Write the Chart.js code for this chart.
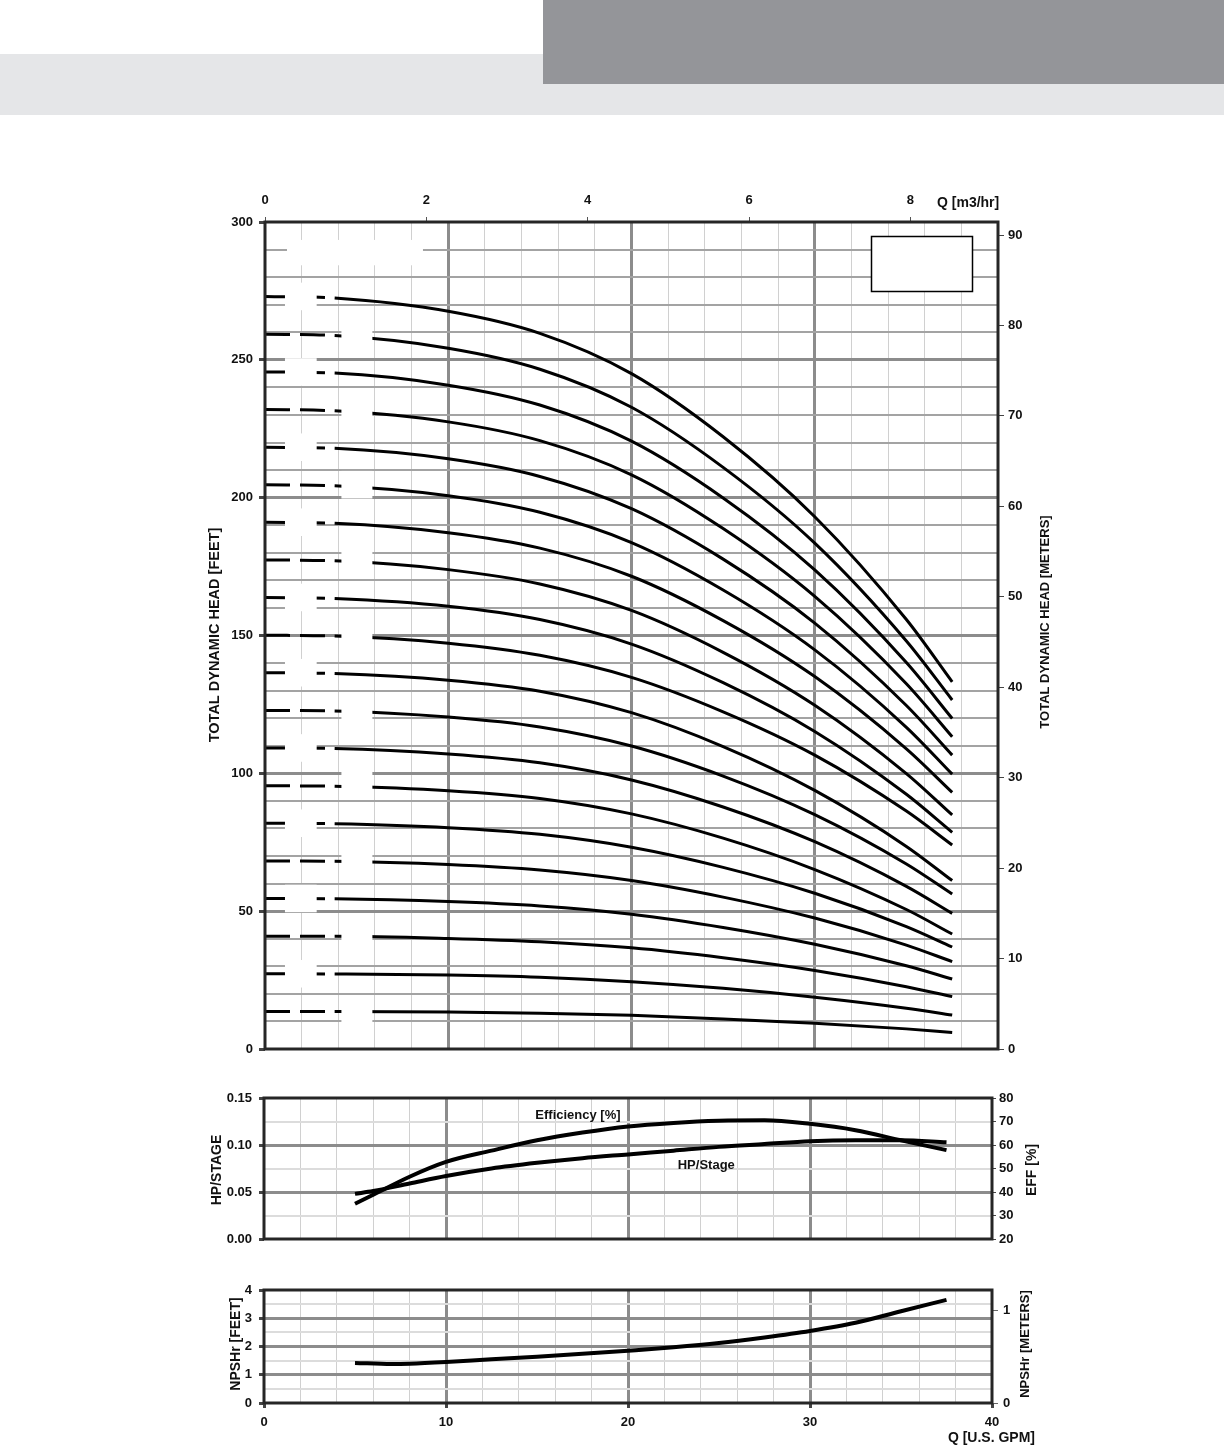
<!DOCTYPE html>
<html><head><meta charset="utf-8">
<script src="https://cdn.jsdelivr.net/npm/chart.js@4.4.1/dist/chart.umd.min.js"></script>
<style>
html,body{margin:0;padding:0;background:#fff;}
#page{position:relative;width:1224px;height:1450px;overflow:hidden;background:#fff;}
.band{position:absolute;left:0;top:54px;width:1224px;height:61px;background:#e5e6e8;}
.dark{position:absolute;left:543px;top:0;width:681px;height:84px;background:#949599;}
canvas{position:absolute;left:0;}
</style></head><body>
<div id="page">
<div class="band"></div><div class="dark"></div>
<canvas id="c1" width="1224" height="1080" style="top:0"></canvas>
<canvas id="c2" width="1224" height="200" style="top:1060px"></canvas>
<canvas id="c3" width="1224" height="190" style="top:1260px"></canvas>
</div>
<script>
// ---------- DATA ----------
const flowGpm = [0, 3.8, 10, 15, 20, 25, 30, 35, 37.5];
const head01 = [13.6, 13.6, 13.4, 13.0, 12.2, 10.9, 9.3, 7.3, 6.0];
const head02 = [27.3, 27.2, 26.8, 26.0, 24.4, 22.0, 18.8, 14.8, 12.3];
const head03 = [40.9, 40.9, 40.1, 38.9, 36.7, 33.1, 28.5, 22.6, 19.0];
const head04 = [54.6, 54.5, 53.5, 51.9, 48.9, 44.1, 38.0, 30.2, 25.4];
const head05 = [68.2, 68.1, 66.9, 64.9, 61.1, 55.1, 47.5, 37.7, 31.7];
const head06 = [81.9, 81.7, 80.3, 77.9, 73.2, 65.9, 56.5, 44.4, 37.0];
const head07 = [95.5, 95.3, 93.7, 90.9, 85.3, 76.5, 65.1, 50.6, 41.7];
const head08 = [109.2, 109.0, 107.0, 103.8, 97.6, 87.8, 75.2, 59.0, 49.2];
const head09 = [122.8, 122.6, 120.4, 116.8, 109.9, 99.0, 85.0, 67.1, 56.2];
const head10 = [136.5, 136.2, 133.8, 129.8, 122.0, 109.7, 93.8, 73.5, 61.1];
const head11 = [150.1, 149.8, 147.2, 142.8, 134.8, 122.3, 106.6, 86.3, 74.0];
const head12 = [163.8, 163.4, 160.6, 155.8, 146.9, 132.9, 115.2, 92.4, 78.6];
const head13 = [177.4, 177.1, 173.9, 168.7, 159.1, 143.9, 124.7, 99.9, 84.9];
const head14 = [191.1, 190.7, 187.3, 181.7, 171.5, 155.4, 135.1, 108.9, 93.1];
const head15 = [204.7, 204.3, 200.7, 194.7, 183.7, 166.5, 144.8, 116.7, 99.7];
const head16 = [218.3, 217.9, 214.1, 207.7, 196.0, 177.7, 154.5, 124.6, 106.6];
const head17 = [232.0, 231.5, 227.5, 220.7, 208.3, 188.8, 164.2, 132.5, 113.3];
const head18 = [245.6, 245.2, 240.8, 233.6, 220.5, 199.9, 173.8, 140.2, 119.9];
const head19 = [259.3, 258.8, 254.2, 246.6, 232.8, 211.0, 183.5, 148.0, 126.6];
const head20 = [273.0, 272.4, 267.6, 259.6, 245.0, 222.1, 193.1, 155.8, 133.2];
const headCurves = [head01, head02, head03, head04, head05, head06, head07, head08, head09, head10,
                    head11, head12, head13, head14, head15, head16, head17, head18, head19, head20];

const perfGpm = [5, 6, 8, 10, 12.5, 15, 17.5, 20, 22.5, 25, 27.5, 30, 32.5, 35, 37.5];
const hpPerStage = [0.048, 0.051, 0.059, 0.067, 0.075, 0.081, 0.086, 0.090, 0.094, 0.098, 0.101, 0.104, 0.105, 0.105, 0.103];
const efficiencyPct = [35, 38.8, 46.5, 52.8, 57.6, 62.0, 65.3, 67.9, 69.4, 70.3, 70.5, 69.0, 66.3, 62.0, 57.8];

const npshGpm = [5, 7, 8, 10, 12.5, 15, 17.5, 20, 22.5, 25, 27.5, 30, 32.5, 35, 37.5];
const npshFeet = [1.42, 1.38, 1.39, 1.45, 1.55, 1.64, 1.74, 1.85, 1.97, 2.12, 2.32, 2.55, 2.84, 3.25, 3.65];

const gpmTicks = [0, 10, 20, 30, 40];
const m3hTicks = [0, 2, 4, 6, 8];
const feetTicks = [0, 50, 100, 150, 200, 250, 300];
const meterTicks = [0, 10, 20, 30, 40, 50, 60, 70, 80, 90];
const hpTicks = [0.00, 0.05, 0.10, 0.15];
const effTicks = [20, 30, 40, 50, 60, 70, 80];
const npshFtTicks = [0, 1, 2, 3, 4];
const npshMTicks = [0, 1];

// ---------- STYLE ----------
const FAM = 'Liberation Sans, Arial, sans-serif';
const tickFont = {family: FAM, size: 13, weight: 'bold'};
const INK = '#111';
const MAJOR = '#8c8c8c', MID = '#a3a3a3', MINOR = '#d0d0d0', LIGHT = '#dcdcdc', FRAME = '#262626';
const GPM_PER_M3H = 4.40287, FT_PER_M = 3.28084;
const near = (v, arr) => arr.some(a => Math.abs(a - v) < 1e-6);
const TRANSP = 'rgba(0,0,0,0)';

function textPlugin(id, items) {
  return { id, afterDraw(chart) {
    const ctx = chart.ctx;
    items.forEach(it => {
      ctx.save();
      ctx.font = 'bold ' + (it.size || 13) + 'px ' + FAM;
      ctx.fillStyle = INK;
      let x = it.x, y = it.y;
      if (it.data) { x = chart.scales.x.getPixelForValue(it.data[0]); y = chart.scales.y.getPixelForValue(it.data[1]); }
      ctx.translate(x, y);
      if (it.rot) ctx.rotate(it.rot);
      ctx.textAlign = it.align || 'center';
      ctx.textBaseline = 'middle';
      ctx.fillText(it.text, 0, 0);
      ctx.restore();
    });
  }};
}
const framePlugin = { id: 'frame', afterDraw(chart) {
  const a = chart.chartArea, ctx = chart.ctx;
  ctx.save(); ctx.strokeStyle = FRAME; ctx.lineWidth = 3;
  ctx.strokeRect(a.left, a.top, a.right - a.left, a.bottom - a.top);
  ctx.restore();
}};

// label masks on main chart
const boxA = [1.09, 2.82], boxB = [4.17, 5.86], boxHalf = 5;
const titleMask = {x: [1.2, 8.62], y: [284.3, 293.5]};
const legendBox = {x: [33.05, 38.6], y: [274.9, 294.9]};
const maskPlugin = { id: 'masks', afterDatasetsDraw(chart) {
  const xs = chart.scales.x, ys = chart.scales.y, ctx = chart.ctx;
  ctx.save(); ctx.fillStyle = '#fff';
  headCurves.forEach((vals, i) => {
    const r = ((i + 1) % 2 === 0) ? boxA : boxB;
    const x0 = xs.getPixelForValue(r[0]), x1 = xs.getPixelForValue(r[1]);
    const y0 = ys.getPixelForValue(vals[0] + boxHalf), y1 = ys.getPixelForValue(vals[0] - boxHalf);
    ctx.fillRect(x0, y0, x1 - x0, y1 - y0);
  });
  let x0 = xs.getPixelForValue(titleMask.x[0]), x1 = xs.getPixelForValue(titleMask.x[1]);
  let y0 = ys.getPixelForValue(titleMask.y[1]), y1 = ys.getPixelForValue(titleMask.y[0]);
  ctx.fillRect(x0, y0, x1 - x0, y1 - y0);
  x0 = Math.round(xs.getPixelForValue(legendBox.x[0])) + 0.5; x1 = Math.round(xs.getPixelForValue(legendBox.x[1])) + 0.5;
  y0 = Math.round(ys.getPixelForValue(legendBox.y[1])) + 0.5; y1 = Math.round(ys.getPixelForValue(legendBox.y[0])) + 0.5;
  ctx.fillRect(x0, y0, x1 - x0, y1 - y0);
  ctx.strokeStyle = '#000'; ctx.lineWidth = 1.5;
  ctx.strokeRect(x0, y0, x1 - x0, y1 - y0);
  ctx.restore();
}};

const vGrid = {
  drawTicks: false,
  color: c => (c.tick.value <= 0 || c.tick.value >= 40) ? TRANSP : (c.tick.value % 10 === 0 ? MAJOR : MINOR),
  lineWidth: c => (c.tick.value % 10 === 0 ? 3 : 1)
};
const common = { responsive: false, animation: false, events: [], devicePixelRatio: 1,
  plugins: { legend: {display: false}, tooltip: {enabled: false} } };

// ---------- MAIN HEAD CHART ----------
new Chart(document.getElementById('c1'), {
  type: 'line',
  data: { datasets: headCurves.map(vals => ({
    data: vals.map((v, i) => ({x: flowGpm[i], y: v})),
    borderColor: '#000', borderWidth: 3, pointRadius: 0, fill: false,
    cubicInterpolationMode: 'monotone', borderCapStyle: 'butt',
    segment: { borderDash: c => c.p0.parsed.x < flowGpm[1] - 0.01 ? [25, 10] : [] },
    xAxisID: 'x', yAxisID: 'y'
  })) },
  options: Object.assign({}, common, {
    layout: { padding: {left: 195, right: 166, top: 182, bottom: 31} },
    scales: {
      x: { type: 'linear', position: 'bottom', min: 0, max: 40,
           ticks: {stepSize: 2, display: false}, grid: vGrid, border: {display: false},
           afterFit(s) { s.height = 0; } },
      xm: { type: 'linear', position: 'top', min: 0, max: 40 / GPM_PER_M3H,
            ticks: {stepSize: 2, includeBounds: false, autoSkip: false, font: tickFont, color: INK, padding: 9,
                    callback: v => near(v, m3hTicks) ? String(v) : ''},
            grid: {drawOnChartArea: false, drawTicks: true, tickLength: 5, color: '#555', lineWidth: 1},
            border: {display: false}, afterFit(s) { s.height = 40; } },
      y: { type: 'linear', position: 'left', min: 0, max: 300,
           ticks: {stepSize: 10, autoSkip: false, font: tickFont, color: INK, padding: 6,
                   callback: v => near(v, feetTicks) ? String(v) : ''},
           grid: { tickLength: 6,
                   tickColor: c => near(c.tick.value, feetTicks) ? '#444' : TRANSP,
                   color: c => (c.tick.value <= 0 || c.tick.value >= 300) ? TRANSP : (c.tick.value % 50 === 0 ? MAJOR : MID),
                   lineWidth: c => (c.tick.value % 50 === 0 ? 3 : 2) },
           border: {display: false}, afterFit(s) { s.width = 70; } },
      y2: { type: 'linear', position: 'right', min: 0, max: 300 / FT_PER_M,
            ticks: {stepSize: 10, includeBounds: false, autoSkip: false, font: tickFont, color: INK, padding: 4,
                    callback: v => near(v, meterTicks) ? String(v) : ''},
            grid: {drawOnChartArea: false, tickLength: 6, color: '#444', lineWidth: 1},
            border: {display: false}, afterFit(s) { s.width = 60; } }
    }
  }),
  plugins: [maskPlugin, framePlugin, textPlugin('t1', [
    {text: 'TOTAL DYNAMIC HEAD [FEET]', x: 215, y: 635, rot: -Math.PI / 2, size: 14.5},
    {text: 'TOTAL DYNAMIC HEAD [METERS]', x: 1045, y: 622, rot: -Math.PI / 2, size: 13},
    {text: 'Q [m3/hr]', x: 937, y: 203, align: 'left', size: 14}
  ])]
});

// ---------- HP / EFFICIENCY CHART ----------
new Chart(document.getElementById('c2'), {
  type: 'line',
  data: { datasets: [
    { data: perfGpm.map((g, i) => ({x: g, y: hpPerStage[i]})), borderColor: '#000', borderWidth: 4,
      pointRadius: 0, cubicInterpolationMode: 'monotone', xAxisID: 'x', yAxisID: 'y' },
    { data: perfGpm.map((g, i) => ({x: g, y: efficiencyPct[i]})), borderColor: '#000', borderWidth: 4,
      pointRadius: 0, cubicInterpolationMode: 'monotone', xAxisID: 'x', yAxisID: 'y2' }
  ] },
  options: Object.assign({}, common, {
    layout: { padding: {left: 194, right: 172, top: 38, bottom: 21} },
    scales: {
      x: { type: 'linear', position: 'bottom', min: 0, max: 40,
           ticks: {stepSize: 2, display: false}, grid: vGrid, border: {display: false},
           afterFit(s) { s.height = 0; } },
      y: { type: 'linear', position: 'left', min: 0, max: 0.15,
           ticks: {stepSize: 0.025, autoSkip: false, font: tickFont, color: INK, padding: 7,
                   callback: v => near(v, hpTicks) ? v.toFixed(2) : ''},
           grid: { tickLength: 5,
                   tickColor: c => near(c.tick.value, hpTicks) ? '#444' : TRANSP,
                   color: c => (c.tick.value <= 0.0001 || c.tick.value >= 0.1499) ? TRANSP : (near(c.tick.value, hpTicks) ? MAJOR : LIGHT),
                   lineWidth: c => near(c.tick.value, hpTicks) ? 3 : 2 },
           border: {display: false}, afterFit(s) { s.width = 70; } },
      y2: { type: 'linear', position: 'right', min: 20, max: 80,
            ticks: {stepSize: 10, autoSkip: false, font: tickFont, color: INK, padding: 3,
                    callback: v => near(v, effTicks) ? String(v) : ''},
            grid: {drawOnChartArea: false, tickLength: 4, color: '#444', lineWidth: 1},
            border: {display: false}, afterFit(s) { s.width = 60; } }
    }
  }),
  plugins: [framePlugin, textPlugin('t2', [
    {text: 'HP/STAGE', x: 217, y: 110, rot: -Math.PI / 2, size: 14},
    {text: 'EFF [%]', x: 1032, y: 110, rot: -Math.PI / 2, size: 14},
    {text: 'Efficiency [%]', data: [17.25, 0.131]},
    {text: 'HP/Stage', data: [24.3, 0.0785]}
  ])]
});

// ---------- NPSH CHART ----------
new Chart(document.getElementById('c3'), {
  type: 'line',
  data: { datasets: [
    { data: npshGpm.map((g, i) => ({x: g, y: npshFeet[i]})), borderColor: '#000', borderWidth: 4,
      pointRadius: 0, cubicInterpolationMode: 'monotone', xAxisID: 'x', yAxisID: 'y' }
  ] },
  options: Object.assign({}, common, {
    layout: { padding: {left: 194, right: 172, top: 30, bottom: 17} },
    scales: {
      x: { type: 'linear', position: 'bottom', min: 0, max: 40,
           ticks: {stepSize: 2, font: tickFont, color: INK, padding: 7, maxRotation: 0, autoSkip: false,
                   callback: v => near(v, gpmTicks) ? String(v) : ''},
           grid: { drawTicks: true, tickLength: 5,
                   tickColor: c => near(c.tick.value, gpmTicks) ? '#444' : TRANSP,
                   color: vGrid.color, lineWidth: vGrid.lineWidth },
           border: {display: false}, afterFit(s) { s.height = 30; } },
      y: { type: 'linear', position: 'left', min: 0, max: 4,
           ticks: {stepSize: 0.5, autoSkip: false, font: tickFont, color: INK, padding: 7,
                   callback: v => near(v, npshFtTicks) ? String(v) : ''},
           grid: { tickLength: 5,
                   tickColor: c => near(c.tick.value, npshFtTicks) ? '#444' : TRANSP,
                   color: c => (c.tick.value <= 0 || c.tick.value >= 4) ? TRANSP : (near(c.tick.value, npshFtTicks) ? MAJOR : LIGHT),
                   lineWidth: c => near(c.tick.value, npshFtTicks) ? 3 : 2 },
           border: {display: false}, afterFit(s) { s.width = 70; } },
      y2: { type: 'linear', position: 'right', min: 0, max: 4 / FT_PER_M,
            ticks: {stepSize: 1, includeBounds: false, autoSkip: false, font: tickFont, color: INK, padding: 5,
                    callback: v => near(v, npshMTicks) ? String(v) : ''},
            grid: {drawOnChartArea: false, tickLength: 6, color: '#666', lineWidth: 1},
            border: {display: false}, afterFit(s) { s.width = 60; } }
    }
  }),
  plugins: [framePlugin, textPlugin('t3', [
    {text: 'NPSHr [FEET]', x: 236, y: 84, rot: -Math.PI / 2, size: 14},
    {text: 'NPSHr [METERS]', x: 1025, y: 84, rot: -Math.PI / 2, size: 13},
    {text: 'Q [U.S. GPM]', x: 1035, y: 178, align: 'right', size: 14}
  ])]
});
</script>
</body></html>
